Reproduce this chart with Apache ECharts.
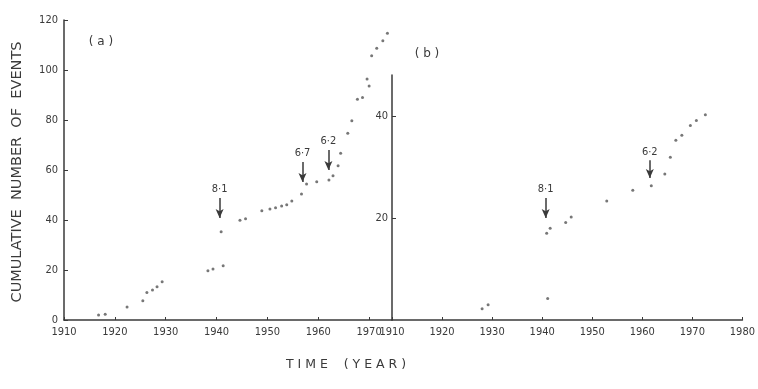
<!DOCTYPE html>
<html>
<head>
<meta charset="utf-8">
<script src="https://cdn.jsdelivr.net/npm/echarts@6/dist/echarts.min.js"></script>
<style>
  html, body { margin: 0; padding: 0; background: #fff; }
  #chart { width: 758px; height: 389px; }
</style>
</head>
<body>
<div id="chart"></div>
<script>
// (a) 累计事件数
const yearsA = [1916.8, 1918.1, 1922.4, 1925.5, 1926.3, 1927.4, 1928.3, 1929.3,
  1938.3, 1939.3, 1940.9, 1941.3, 1944.6, 1945.7, 1948.9, 1950.5, 1951.6, 1952.8,
  1953.8, 1954.8, 1956.7, 1957.7, 1959.7, 1962.1, 1962.9, 1963.9, 1964.4, 1965.8,
  1966.6, 1967.7, 1968.7, 1969.6, 1970.0, 1970.5, 1971.5, 1972.7, 1973.6];
const countsA = [2, 2.3, 5.2, 7.7, 11, 12, 13.3, 15.3,
  19.7, 20.4, 35.3, 21.7, 39.9, 40.5, 43.7, 44.4, 44.9, 45.6,
  46.1, 47.6, 50.4, 54.4, 55.3, 56, 57.7, 61.7, 66.7, 74.7,
  79.7, 88.3, 89, 96.4, 93.6, 105.7, 108.7, 111.7, 114.7];

// (b)
const yearsB = [1928.0, 1929.2, 1941.1, 1940.9, 1941.6, 1944.7, 1945.8, 1952.9,
  1958.1, 1961.8, 1964.5, 1965.6, 1966.7, 1967.9, 1969.6, 1970.8, 1972.6];
const countsB = [2.2, 3, 4.2, 17, 18, 19.1, 20.2, 23.3,
  25.4, 26.3, 28.6, 31.9, 35.2, 36.2, 38.1, 39.1, 40.2];

// 箭头标注: [年份, 起点, 终点, 震级]
const arrowsA = [[1940.6, 48.8, 40.8, '8·1'], [1956.9, 63.2, 55.2, '6·7'], [1962.0, 68, 60, '6·2']];
const arrowsB = [[1940.7, 23.9, 20.0, '8·1'], [1961.5, 31.3, 27.8, '6·2']];

const yTicksA = [0, 20, 40, 60, 80, 100, 120];
const yTicksB = [20, 40];
const xTicksA = [1910, 1920, 1930, 1940, 1950, 1960, 1970];
const xTicksB = [1910, 1920, 1930, 1940, 1950, 1960, 1970, 1980];

const ink = '#3a3a3a';
const font = 'DejaVu Sans Condensed';

const arrowLines = list => list.map(a => [
  { coord: [a[0], a[1]], name: a[3] },
  { coord: [a[0], a[2]] }
]);

const chart = echarts.init(document.getElementById('chart'));

const baseX = {
  type: 'value',
  interval: 10,
  axisLine: { lineStyle: { color: ink, width: 1.5 } },
  axisTick: { inside: true, length: 3, lineStyle: { color: ink } },
  splitLine: { show: false },
  axisLabel: { color: ink, fontFamily: font, fontSize: 11, margin: 7 }
};
const baseY = {
  type: 'value',
  interval: 20,
  axisLine: { show: true, lineStyle: { color: ink, width: 1.5 } },
  axisTick: { show: true, inside: true, length: 4, lineStyle: { color: ink } },
  splitLine: { show: false },
  axisLabel: { color: ink, fontFamily: font, fontSize: 11, margin: 6 }
};

const option = {
  backgroundColor: '#fff',
  animation: false,
  grid: [
    { left: 64, top: 20, width: 328, height: 300 },
    { left: 392, top: 75, width: 356, height: 245 }
  ],
  xAxis: [
    Object.assign({}, baseX, {
      gridIndex: 0, min: 1910, max: 1974.5,
      axisLabel: Object.assign({}, baseX.axisLabel, {
        formatter: v => (xTicksA.includes(v) ? String(v) : '')
      })
    }),
    Object.assign({}, baseX, {
      gridIndex: 1, min: 1910, max: 1980,
      axisLabel: Object.assign({}, baseX.axisLabel, {
        formatter: v => (xTicksB.includes(v) ? String(v) : '')
      })
    })
  ],
  yAxis: [
    Object.assign({}, baseY, {
      gridIndex: 0, min: 0, max: 120,
      axisLabel: Object.assign({}, baseY.axisLabel, {
        formatter: v => (yTicksA.includes(v) ? String(v) : '')
      })
    }),
    Object.assign({}, baseY, {
      gridIndex: 1, min: 0, max: 48,
      axisTick: Object.assign({}, baseY.axisTick, { customValues: yTicksB }),
      axisLabel: Object.assign({}, baseY.axisLabel, {
        margin: 4,
        formatter: v => (yTicksB.includes(v) ? String(v) : '')
      })
    })
  ],
  graphic: [
    {
      type: 'text', x: 17, y: 172, rotation: Math.PI / 2,
      style: {
        text: 'CUMULATIVE  NUMBER  OF  EVENTS', fill: ink,
        font: '14.5px "DejaVu Sans"', align: 'center', verticalAlign: 'middle'
      }
    },
    {
      type: 'text', x: 346, y: 365,
      style: {
        text: 'T I M E    ( Y E A R )', fill: ink,
        font: '12.5px "DejaVu Sans"', align: 'center', verticalAlign: 'middle'
      }
    },
    {
      type: 'text', x: 101, y: 42,
      style: { text: '( a )', fill: ink, font: '12px "DejaVu Sans"', align: 'center', verticalAlign: 'middle' }
    },
    {
      type: 'text', x: 427, y: 54,
      style: { text: '( b )', fill: ink, font: '12px "DejaVu Sans"', align: 'center', verticalAlign: 'middle' }
    }
  ],
  series: [
    {
      type: 'scatter',
      xAxisIndex: 0, yAxisIndex: 0,
      symbolSize: 3,
      itemStyle: { color: '#555' },
      data: yearsA.map((y, i) => [y, countsA[i]]),
      markLine: {
        silent: true,
        symbol: ['none', 'arrow'],
        symbolSize: [6, 9],
        lineStyle: { color: ink, width: 1.5, type: 'solid' },
        label: {
          show: true, position: 'start', formatter: '{b}',
          color: ink, fontFamily: font, fontSize: 11, distance: 3
        },
        data: arrowLines(arrowsA)
      }
    },
    {
      type: 'scatter',
      xAxisIndex: 1, yAxisIndex: 1,
      symbolSize: 3,
      itemStyle: { color: '#555' },
      data: yearsB.map((y, i) => [y, countsB[i]]),
      markLine: {
        silent: true,
        symbol: ['none', 'arrow'],
        symbolSize: [6, 9],
        lineStyle: { color: ink, width: 1.5, type: 'solid' },
        label: {
          show: true, position: 'start', formatter: '{b}',
          color: ink, fontFamily: font, fontSize: 11, distance: 3
        },
        data: arrowLines(arrowsB)
      }
    }
  ]
};
chart.setOption(option);
</script>
</body>
</html>
